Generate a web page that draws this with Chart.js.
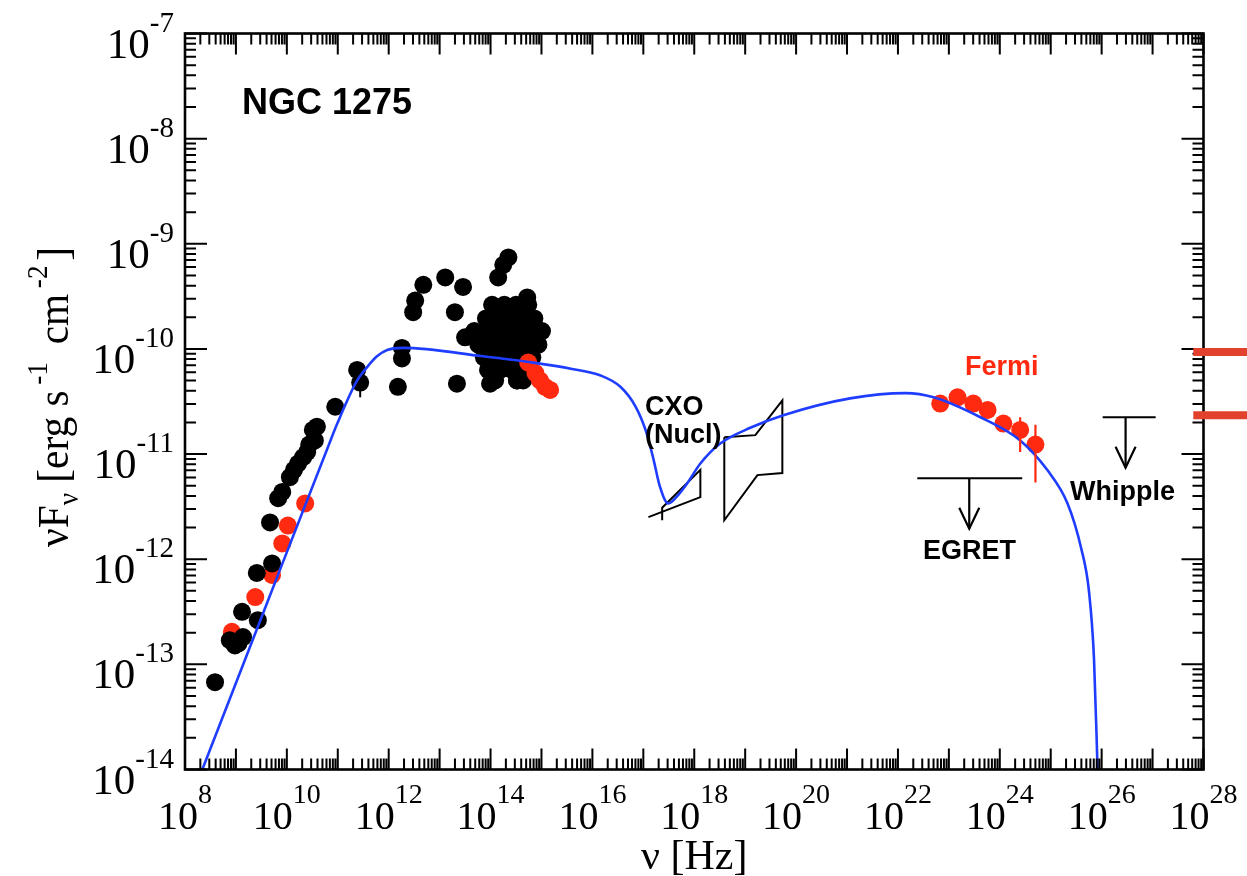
<!DOCTYPE html>
<html>
<head>
<meta charset="utf-8">
<title>NGC 1275 SED</title>
<script src="https://cdn.jsdelivr.net/npm/chart.js@4.4.1/dist/chart.umd.min.js"></script>
<style>
  html, body { margin: 0; padding: 0; background: #ffffff; }
  #wrap { width: 1247px; height: 876px; position: relative; }
</style>
</head>
<body>
<div id="wrap"><canvas id="sed" width="1247" height="876"></canvas></div>
<script>
// ---------- axis ranges and tick labels (log10 exponents) ----------
const xRangeExp = [8, 28];
const yRangeExp = [-14, -7];
const xLabelExps = [8, 10, 12, 14, 16, 18, 20, 22, 24, 26, 28];
const yLabelExps = [-14, -13, -12, -11, -10, -9, -8, -7];

// ---------- archival radio / IR / optical photometry (black) ----------
const archLogNu = [8.59, 8.88, 8.98, 9.05, 9.14, 9.12, 9.43, 9.41, 9.71, 9.67, 9.83, 9.91, 10.06, 10.14,
  10.22, 10.32, 10.40, 10.44, 10.51, 10.55, 10.59, 10.95, 11.38, 11.44, 12.18, 12.26, 12.26, 12.48,
  12.52, 12.68, 13.11, 13.46, 13.30, 13.34, 13.50, 13.99, 14.15, 14.35, 14.25, 14.72, 14.52,
  14.03, 14.27, 14.50, 14.74,
  13.91, 14.15, 14.39, 14.62, 14.86,
  13.68, 13.91, 14.15, 14.39, 14.62, 14.86, 15.01,
  13.76, 13.99, 14.23, 14.46, 14.70, 14.94,
  13.87, 14.11, 14.35, 14.58, 14.82,
  13.95, 14.19, 14.42, 14.66,
  14.09, 14.52, 14.64];
const archLogF = [-13.17, -12.77, -12.82, -12.80, -12.74, -12.50, -12.58, -12.13, -12.04, -11.65, -11.42,
  -11.36, -11.22, -11.15, -11.09, -11.03, -10.98, -10.91, -10.77, -10.87, -10.74, -10.55, -10.20, -10.32,
  -10.36, -10.09, -9.99, -9.65, -9.54, -9.39, -9.32, -9.41, -9.65, -10.33, -9.89, -10.33, -9.32, -9.13,
  -9.20, -9.51, -10.30,
  -9.58, -9.58, -9.58, -9.58,
  -9.71, -9.71, -9.71, -9.71, -9.71,
  -9.83, -9.83, -9.83, -9.83, -9.83, -9.83, -9.83,
  -9.96, -9.96, -9.96, -9.96, -9.96, -9.96,
  -10.08, -10.08, -10.08, -10.08, -10.08,
  -10.20, -10.20, -10.20, -10.20,
  -10.30, -10.30, -10.30];
// error bar on one far-IR point
const archErrLogNu = [11.44];
const archErrLogLo = [-10.46];
const archErrLogHi = [-10.33];

// ---------- simultaneous radio and optical points (red) ----------
const redRadioLogNu = [8.92, 9.38, 9.71, 9.91, 10.02, 10.36];
const redRadioLogF = [-12.69, -12.36, -12.15, -11.85, -11.68, -11.47];
const redOptLogNu = [14.74, 14.88, 14.97, 15.07, 15.17];
const redOptLogF = [-10.13, -10.23, -10.30, -10.36, -10.39];

// ---------- Fermi-LAT spectrum ----------
const fermiLogNu = [22.83, 23.17, 23.48, 23.76, 24.07, 24.40, 24.70];
const fermiLogF = [-10.52, -10.46, -10.52, -10.58, -10.71, -10.77, -10.91];
const fermiLogLo = [null, null, null, null, null, -10.98, -11.27];
const fermiLogHi = [null, null, null, null, null, -10.65, -10.72];

// ---------- Chandra nuclear bow-ties ----------
const cxoSoftLogNu = [17.10, 18.12, 18.12, 17.37, 17.37];
const cxoSoftLogF = [-11.60, -11.41, -11.15, -11.51, -11.63];
const cxoHardLogNu = [18.59, 19.20, 19.73, 19.73, 19.24, 18.59, 18.59];
const cxoHardLogF = [-10.84, -10.82, -10.49, -11.18, -11.20, -11.63, -10.84];

// ---------- upper limits ----------
const egretBarLogNu = [22.38, 24.44];
const egretBarLogF = [-11.23, -11.23];
const egretArrowLogNu = [23.40, 23.40];
const egretArrowLogF = [-11.23, -11.71];
const whippleBarLogNu = [26.02, 27.06];
const whippleBarLogF = [-10.65, -10.65];
const whippleArrowLogNu = [26.47, 26.47];
const whippleArrowLogF = [-10.65, -11.13];

// ---------- synchrotron + SSC model ----------
const modelLogNu = [8.34, 9.60, 10.85, 10.99, 11.38, 11.58, 11.77, 11.97, 12.28, 13.85,
  14.84, 15.60, 16.15, 16.55, 16.85, 17.05, 17.20, 17.32, 17.49, 17.70, 17.86, 18.12, 18.51, 19.10,
  19.75, 21.06, 22.15, 22.70, 23.62, 24.40, 24.93, 25.33, 25.60, 25.75, 25.85, 25.92];
const modelLogF = [-14.0, -12.43, -10.88, -10.71, -10.30, -10.17, -10.07, -10.01, -9.99, -10.07,
  -10.13, -10.19, -10.25, -10.36, -10.55, -10.78, -11.05, -11.30, -11.47, -11.38, -11.28, -11.09,
  -10.90, -10.75, -10.63, -10.47, -10.42, -10.46, -10.65, -10.87, -11.15, -11.47, -11.90, -12.30,
  -12.95, -14.0];

// ---------- reference flux levels marked at the right edge ----------
const sideMarkLogF = [-10.03, -10.63];
const sideMarkStartLogNu = 27.8;

// ---------- helpers ----------
const pow10 = (e) => Math.pow(10, e);
const pts = (lx, ly) => lx.map((v, i) => ({ x: pow10(v), y: pow10(ly[i]) }));

const RED = '#ff2a10';
const BLUE = '#1f3dff';
const SERIF = '"Liberation Serif", "Times New Roman", serif';
const SANS = '"Liberation Sans", Arial, sans-serif';

function drawPower(ctx, base, exp, x, y, align, baseSize, expSize, rise) {
  ctx.font = baseSize + 'px ' + SERIF;
  const bw = ctx.measureText(base).width;
  ctx.font = expSize + 'px ' + SERIF;
  const ew = ctx.measureText(exp).width;
  const total = bw + ew;
  const left = align === 'center' ? x - total / 2 : (align === 'right' ? x - total : x);
  ctx.textAlign = 'left';
  ctx.textBaseline = 'alphabetic';
  ctx.font = baseSize + 'px ' + SERIF;
  ctx.fillText(base, left, y);
  ctx.font = expSize + 'px ' + SERIF;
  ctx.fillText(exp, left + bw, y - rise);
}

// Axis box with inward log ticks on all four sides, plus tick labels and titles
const framePlugin = {
  id: 'frame',
  afterDatasetsDraw(chart) {
    const { ctx, chartArea: a, scales: { x, y } } = chart;
    ctx.save();
    ctx.strokeStyle = '#000';
    ctx.lineWidth = 2;
    ctx.beginPath();
    for (let e = xRangeExp[0]; e <= xRangeExp[1]; e++) {
      for (let m = 1; m <= 9; m++) {
        if (e === xRangeExp[1] && m > 1) break;
        const px = x.getPixelForValue(m * pow10(e));
        const len = m === 1 ? 21 : 11;
        ctx.moveTo(px, a.bottom); ctx.lineTo(px, a.bottom - len);
        ctx.moveTo(px, a.top); ctx.lineTo(px, a.top + len);
      }
    }
    for (let e = yRangeExp[0]; e <= yRangeExp[1]; e++) {
      for (let m = 1; m <= 9; m++) {
        if (e === yRangeExp[1] && m > 1) break;
        const py = y.getPixelForValue(m * pow10(e));
        const len = m === 1 ? 22 : 11;
        ctx.moveTo(a.left, py); ctx.lineTo(a.left + len, py);
        ctx.moveTo(a.right, py); ctx.lineTo(a.right - len, py);
      }
    }
    ctx.stroke();
    ctx.lineWidth = 2.6;
    ctx.strokeRect(a.left, a.top, a.right - a.left, a.bottom - a.top);
    ctx.restore();
  },
  afterDraw(chart) {
    const { ctx, chartArea: a, scales: { x, y } } = chart;
    ctx.save();
    ctx.fillStyle = '#000';
    xLabelExps.forEach((e) => {
      drawPower(ctx, '10', String(e), x.getPixelForValue(pow10(e)), a.bottom + 59, 'center', 40, 28, 26);
    });
    yLabelExps.forEach((e) => {
      drawPower(ctx, '10', String(e), a.left - 11, y.getPixelForValue(pow10(e)) + 24, 'right', 43, 29, 26);
    });

    // x title
    ctx.font = '42px ' + SERIF;
    ctx.textAlign = 'center';
    ctx.textBaseline = 'alphabetic';
    ctx.fillText('\u03bd [Hz]', (a.left + a.right) / 2, 869);

    // y title, rotated, built from runs with sub/superscripts: [text, size, shift, extra gap]
    const runs = [
      ['\u03bdF', 44, 0, 0],
      ['\u03bd', 29, 10, 0],
      [' [erg s', 44, 0, 6],
      ['-1', 29, -21, 8],
      [' cm', 44, 0, 6],
      ['-2', 29, -21, 5],
      [']', 44, 0, 0]
    ];
    let total = 0;
    const widths = runs.map((r) => { ctx.font = r[1] + 'px ' + SERIF; const w = ctx.measureText(r[0]).width; total += w + r[3]; return w; });
    const titleLength = 300;
    ctx.translate(68, 397);
    ctx.rotate(-Math.PI / 2);
    ctx.scale(titleLength / total, 1);
    ctx.textAlign = 'left';
    let cx = -total / 2;
    runs.forEach((r, i) => {
      ctx.font = r[1] + 'px ' + SERIF;
      ctx.fillText(r[0], cx, r[2]);
      cx += widths[i] + r[3];
    });
    ctx.restore();

    // annotations
    ctx.save();
    ctx.textAlign = 'left';
    ctx.textBaseline = 'alphabetic';
    ctx.fillStyle = '#000';
    ctx.font = 'bold 36px ' + SANS;
    ctx.fillText('NGC 1275', 242, 114);
    ctx.font = 'bold 27px ' + SANS;
    ctx.fillText('CXO', 645, 415);
    ctx.fillText('(Nucl)', 645, 443);
    ctx.fillText('EGRET', 923, 559);
    ctx.fillText('Whipple', 1070, 500);
    ctx.fillStyle = RED;
    ctx.fillText('Fermi', 965, 375);

    // right-edge flux marks
    ctx.strokeStyle = '#e2412e';
    ctx.lineWidth = 8;
    ctx.beginPath();
    sideMarkLogF.forEach((f) => {
      const py = y.getPixelForValue(pow10(f));
      ctx.moveTo(x.getPixelForValue(pow10(sideMarkStartLogNu)), py);
      ctx.lineTo(chart.width, py);
    });
    ctx.stroke();
    ctx.restore();
  }
};

// Error bars and upper-limit arrowheads
const extrasPlugin = {
  id: 'extras',
  afterDatasetsDraw(chart) {
    const { ctx, scales: { x, y } } = chart;
    ctx.save();
    ctx.lineWidth = 2.2;
    ctx.strokeStyle = RED;
    ctx.beginPath();
    fermiLogNu.forEach((nu, i) => {
      if (fermiLogLo[i] === null) return;
      const px = x.getPixelForValue(pow10(nu));
      ctx.moveTo(px, y.getPixelForValue(pow10(fermiLogHi[i])));
      ctx.lineTo(px, y.getPixelForValue(pow10(fermiLogLo[i])));
    });
    ctx.stroke();
    ctx.strokeStyle = '#000';
    ctx.lineWidth = 2;
    ctx.beginPath();
    archErrLogNu.forEach((nu, i) => {
      const px = x.getPixelForValue(pow10(nu));
      ctx.moveTo(px, y.getPixelForValue(pow10(archErrLogHi[i])));
      ctx.lineTo(px, y.getPixelForValue(pow10(archErrLogLo[i])));
    });
    ctx.stroke();
    // arrowheads at the tips of the upper limits
    ctx.lineWidth = 2.2;
    ctx.beginPath();
    [[egretArrowLogNu, egretArrowLogF], [whippleArrowLogNu, whippleArrowLogF]].forEach(([lnu, lf]) => {
      const px = x.getPixelForValue(pow10(lnu[1]));
      const py = y.getPixelForValue(pow10(lf[1]));
      ctx.moveTo(px - 10, py - 21);
      ctx.lineTo(px, py);
      ctx.lineTo(px + 10, py - 21);
    });
    ctx.stroke();
    ctx.restore();
  }
};

const dotStyle = (color, order, data) => ({
  data, order,
  backgroundColor: color, borderWidth: 0,
  pointRadius: 9, pointHoverRadius: 9, showLine: false
});
const lineStyle = (color, width, order, data, tension) => ({
  data, order,
  borderColor: color, borderWidth: width, pointRadius: 0, pointHoverRadius: 0,
  showLine: true, fill: false, tension: tension || 0
});

new Chart(document.getElementById('sed'), {
  type: 'scatter',
  data: {
    datasets: [
      Object.assign(lineStyle(BLUE, 2.6, 1, pts(modelLogNu, modelLogF)), { cubicInterpolationMode: 'monotone' }),
      dotStyle(RED, 2, pts(fermiLogNu, fermiLogF)),
      dotStyle(RED, 3, pts(redOptLogNu, redOptLogF)),
      dotStyle('#000', 4, pts(archLogNu, archLogF)),
      dotStyle(RED, 5, pts(redRadioLogNu, redRadioLogF)),
      lineStyle('#000', 2, 6, pts(cxoSoftLogNu, cxoSoftLogF)),
      lineStyle('#000', 2, 6, pts(cxoHardLogNu, cxoHardLogF)),
      lineStyle('#000', 2.2, 6, pts(egretBarLogNu, egretBarLogF)),
      lineStyle('#000', 2.2, 6, pts(egretArrowLogNu, egretArrowLogF)),
      lineStyle('#000', 2.2, 6, pts(whippleBarLogNu, whippleBarLogF)),
      lineStyle('#000', 2.2, 6, pts(whippleArrowLogNu, whippleArrowLogF))
    ]
  },
  options: {
    responsive: false,
    animation: false,
    devicePixelRatio: 1,
    layout: { padding: { left: 185, right: 43.5, top: 33.5, bottom: 106.5 } },
    plugins: { legend: { display: false }, tooltip: { enabled: false } },
    events: [],
    scales: {
      x: { type: 'logarithmic', min: pow10(xRangeExp[0]), max: pow10(xRangeExp[1]), display: false },
      y: { type: 'logarithmic', min: pow10(yRangeExp[0]), max: pow10(yRangeExp[1]), display: false }
    }
  },
  plugins: [framePlugin, extrasPlugin]
});
</script>
</body>
</html>
